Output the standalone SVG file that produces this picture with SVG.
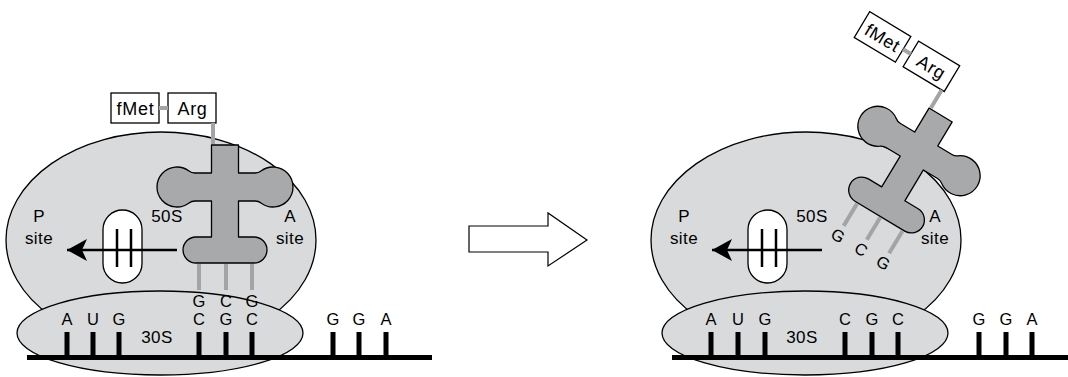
<svg xmlns="http://www.w3.org/2000/svg" width="1068" height="377" viewBox="0 0 1068 377">
  <style>
    .sub { fill: #d9dadc; stroke: #000; stroke-width: 1.3; }
    .trna { fill: #a8a9ab; stroke: #000; stroke-width: 1.3; stroke-linejoin: round; }
    .box { fill: #fff; stroke: #000; stroke-width: 1.3; }
    .codon { fill: #fff; stroke: #000; stroke-width: 1.3; }
    .bond { stroke: #a3a4a6; stroke-width: 4; fill: none; }
    .mrna { stroke: #000; stroke-width: 5; fill: none; }
    .tick { fill: #000; }
    .t { font-family: "Liberation Sans", Arial, sans-serif; font-size: 17px; fill: #000; text-anchor: middle; letter-spacing: 0.4px; }
    .aa { font-size: 18px; letter-spacing: 0.7px; }
    .nt { font-family: "Liberation Sans", Arial, sans-serif; font-size: 16.5px; fill: #000; text-anchor: middle; }
  </style>
  <defs>
    <!-- cloverleaf tRNA outline, centred on the arm/stem crossing -->
    <path id="trna-shape" d="M -13.5 -42 H 13.5 V -14 H 30 Q 33.7 -14 36 -16 A 20 20 0 1 1 36 16 Q 33.7 14 30 14 H 13.5 V 50 H 29 A 13 13 0 0 1 29 76 H -29 A 13 13 0 0 1 -29 50 H -13.5 V 14 H -30 Q -33.7 14 -36 16 A 20 20 0 1 1 -36 -16 Q -33.7 -14 -30 -14 H -13.5 Z"/>
    <!-- notched arrowhead, tip at x=20 -->
    <marker id="head" viewBox="0 0 22 22" refX="20" refY="11" markerWidth="22" markerHeight="22" markerUnits="userSpaceOnUse" orient="auto">
      <path d="M 20 11 L 0 0 L 5 11 L 0 22 Z" fill="#000"/>
    </marker>
  </defs>

  <!-- ===== left: tRNA sitting in the A site ===== -->
  <g id="ribosome-50S-left">
    <ellipse class="sub" cx="161" cy="240" rx="155" ry="108"/>
    <text class="t" x="39" y="222">P</text>
    <text class="t" x="39" y="244">site</text>
    <text class="t" x="167" y="222">50S</text>
    <text class="t" x="290" y="222">A</text>
    <text class="t" x="290" y="244">site</text>
  </g>
  <g id="ribosome-30S-left">
    <ellipse class="sub" cx="160" cy="333" rx="143" ry="42"/>
    <text class="t" x="157" y="343">30S</text>
  </g>
  <g id="mrna-left">
    <line class="mrna" x1="27" y1="357.5" x2="432" y2="357.5"/>
    <rect class="tick" x="64.5" y="332" width="5" height="25"/>
    <rect class="tick" x="90.5" y="332" width="5" height="25"/>
    <rect class="tick" x="116.5" y="332" width="5" height="25"/>
    <rect class="tick" x="196.5" y="332" width="5" height="25"/>
    <rect class="tick" x="223.5" y="332" width="5" height="25"/>
    <rect class="tick" x="249.5" y="332" width="5" height="25"/>
    <rect class="tick" x="330.5" y="332" width="5" height="25"/>
    <rect class="tick" x="356.5" y="332" width="5" height="25"/>
    <rect class="tick" x="383.5" y="332" width="5" height="25"/>
    <text class="nt" x="67" y="325">A</text>
    <text class="nt" x="93" y="325">U</text>
    <text class="nt" x="119" y="325">G</text>
    <text class="nt" x="199" y="325">C</text>
    <text class="nt" x="226" y="325">G</text>
    <text class="nt" x="252" y="325">C</text>
    <text class="nt" x="333" y="325">G</text>
    <text class="nt" x="359" y="325">G</text>
    <text class="nt" x="386" y="325">A</text>
  </g>
  <g id="codon-left">
    <rect class="codon" x="103" y="210" width="39" height="73" rx="19.5" ry="19.5"/>
    <line x1="117" y1="229" x2="117" y2="267" stroke="#000" stroke-width="2.5"/>
    <line x1="131" y1="229" x2="131" y2="267" stroke="#000" stroke-width="2.5"/>
  </g>
  <g id="trna-left" transform="translate(225 187)">
    <use href="#trna-shape" class="trna"/>
    <text class="nt" x="-26" y="120">G</text>
    <text class="nt" x="1" y="120">C</text>
    <text class="nt" x="27" y="120">G</text>
  </g>
  <g id="peptide-left" transform="translate(225 187)">
    <rect class="box" x="-114" y="-94" width="48" height="30"/>
    <text class="t aa" x="-89.5" y="-72">fMet</text>
    <rect class="box" x="-57" y="-94" width="48" height="30"/>
    <text class="t aa" x="-32.5" y="-72">Arg</text>
  </g>

  <!-- ===== transition arrow ===== -->
  <g id="step-arrow">
    <path d="M 469 226 H 548 V 213 L 587 240 L 548 266 V 252 H 469 Z" fill="#fff" stroke="#000" stroke-width="1.2" stroke-linejoin="miter"/>
  </g>

  <!-- ===== right: tRNA tilted towards the P site ===== -->
  <g id="ribosome-50S-right">
    <ellipse class="sub" cx="806" cy="240" rx="155" ry="108"/>
    <text class="t" x="684" y="222">P</text>
    <text class="t" x="684" y="244">site</text>
    <text class="t" x="812" y="222">50S</text>
    <text class="t" x="935" y="222">A</text>
    <text class="t" x="935" y="244">site</text>
  </g>
  <g id="ribosome-30S-right">
    <ellipse class="sub" cx="805" cy="333" rx="143" ry="42"/>
    <text class="t" x="802" y="343">30S</text>
  </g>
  <g id="mrna-right">
    <line class="mrna" x1="672" y1="357.5" x2="1068" y2="357.5"/>
    <rect class="tick" x="708.5" y="332" width="5" height="25"/>
    <rect class="tick" x="735.5" y="332" width="5" height="25"/>
    <rect class="tick" x="762.5" y="332" width="5" height="25"/>
    <rect class="tick" x="842.5" y="332" width="5" height="25"/>
    <rect class="tick" x="869.5" y="332" width="5" height="25"/>
    <rect class="tick" x="895.5" y="332" width="5" height="25"/>
    <rect class="tick" x="976.5" y="332" width="5" height="25"/>
    <rect class="tick" x="1003.5" y="332" width="5" height="25"/>
    <rect class="tick" x="1029.5" y="332" width="5" height="25"/>
    <text class="nt" x="711" y="325">A</text>
    <text class="nt" x="738" y="325">U</text>
    <text class="nt" x="765" y="325">G</text>
    <text class="nt" x="845" y="325">C</text>
    <text class="nt" x="872" y="325">G</text>
    <text class="nt" x="898" y="325">C</text>
    <text class="nt" x="979" y="325">G</text>
    <text class="nt" x="1006" y="325">G</text>
    <text class="nt" x="1032" y="325">A</text>
  </g>
  <g id="codon-right">
    <rect class="codon" x="748" y="210" width="39" height="73" rx="19.5" ry="19.5"/>
    <line x1="762" y1="229" x2="762" y2="267" stroke="#000" stroke-width="2.5"/>
    <line x1="776" y1="229" x2="776" y2="267" stroke="#000" stroke-width="2.5"/>
  </g>
  <g id="trna-right" transform="translate(919 151) rotate(31)">
    <use href="#trna-shape" class="trna"/>
    <text class="nt" x="-26" y="120">G</text>
    <text class="nt" x="1" y="120">C</text>
    <text class="nt" x="27" y="120">G</text>
  </g>
  <g id="peptide-right" transform="translate(919 151) rotate(31)">
    <rect class="box" x="-114" y="-94" width="48" height="30"/>
    <text class="t aa" x="-89.5" y="-72">fMet</text>
    <rect class="box" x="-57" y="-94" width="48" height="30"/>
    <text class="t aa" x="-32.5" y="-72">Arg</text>
  </g>

  <!-- ===== connectors: peptide bonds, tRNA links, base pairing, translocation arrows ===== -->
  <g id="connectors">
    <g transform="translate(225 187)">
      <line class="bond" x1="-66" y1="-79" x2="-57" y2="-79"/>
      <line class="bond" x1="-12" y1="-64" x2="-12" y2="-43"/>
      <line class="bond" x1="-26" y1="77" x2="-26" y2="103"/>
      <line class="bond" x1="1" y1="77" x2="1" y2="103"/>
      <line class="bond" x1="27" y1="77" x2="27" y2="103"/>
    </g>
    <g transform="translate(919 151) rotate(31)">
      <line class="bond" x1="-66" y1="-79" x2="-57" y2="-79"/>
      <line class="bond" x1="-12" y1="-64" x2="-12" y2="-43"/>
      <line class="bond" x1="-26" y1="77" x2="-26" y2="103"/>
      <line class="bond" x1="1" y1="77" x2="1" y2="103"/>
      <line class="bond" x1="27" y1="77" x2="27" y2="103"/>
    </g>
    <line x1="177" y1="250" x2="67" y2="250" stroke="#000" stroke-width="2.5" marker-end="url(#head)"/>
    <line x1="822" y1="250" x2="712" y2="250" stroke="#000" stroke-width="2.5" marker-end="url(#head)"/>
  </g>
</svg>
